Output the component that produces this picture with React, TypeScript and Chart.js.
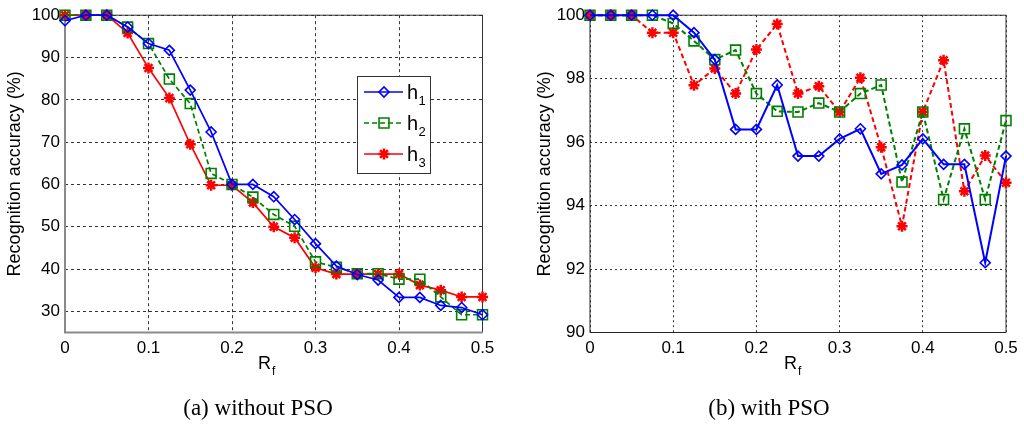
import React, { useEffect, useRef } from "react";
import { Chart, registerables } from "chart.js";
import { drawPoint } from "chart.js/helpers";

Chart.register(...registerables);

// ---------------- data ----------------
const xValues = [0, 0.025, 0.05, 0.075, 0.1, 0.125, 0.15, 0.175, 0.2, 0.225, 0.25, 0.275, 0.3, 0.325, 0.35, 0.375, 0.4, 0.425, 0.45, 0.475, 0.5];
const xTicks = [0, 0.1, 0.2, 0.3, 0.4, 0.5];
const yTicksA = [30, 40, 50, 60, 70, 80, 90, 100];
const yTicksB = [90, 92, 94, 96, 98, 100];
const seriesLabels = ["h₁", "h₂", "h₃"];
const yTitle = "Recognition accuracy (%)";
const xTitleBase = "R";
const xTitleSub = "f";
const captionA = "(a) without PSO";
const captionB = "(b) with PSO";

const h1WithoutPSO = [98.7, 100, 100, 97.2, 93.3, 91.7, 82.3, 72.4, 60.0, 60.0, 57.1, 51.7, 46.0, 40.7, 38.7, 37.4, 33.3, 33.3, 31.4, 30.9, 29.2];
const h2WithoutPSO = [100, 100, 100, 97.2, 93.3, 84.9, 79.1, 62.6, 60.0, 57.0, 52.9, 50.1, 41.7, 40.4, 38.9, 38.9, 37.6, 37.6, 33.4, 29.2, 29.2];
const h3WithoutPSO = [100, 100, 100, 95.8, 87.5, 80.4, 69.5, 59.8, 59.8, 55.7, 50.0, 47.4, 40.3, 38.8, 38.8, 38.8, 38.8, 36.2, 35.0, 33.4, 33.4];

const h1WithPSO = [100, 100, 100, 100, 100, 99.45, 98.6, 96.4, 96.4, 97.8, 95.56, 95.56, 96.1, 96.42, 95.0, 95.28, 96.1, 95.3, 95.3, 92.2, 95.56];
const h2WithPSO = [100, 100, 100, 100, 99.74, 99.19, 98.6, 98.9, 97.53, 96.97, 96.95, 97.23, 96.95, 97.53, 97.8, 94.74, 96.95, 94.19, 96.42, 94.19, 96.68];
const h3WithPSO = [100, 100, 100, 99.45, 99.45, 97.79, 98.32, 97.53, 98.92, 99.72, 97.53, 97.76, 96.95, 98.03, 95.84, 93.35, 96.95, 98.58, 94.45, 95.58, 94.72];

// ---------------- styling ----------------
const SANS = '"Liberation Sans", Arial, Helvetica, sans-serif';
const SERIF = '"Liberation Serif", "Times New Roman", serif';
const BLUE = "#0000ff";
const GREEN = "#008000";
const RED = "#ff0000";

const pts = (ys: number[]) => xValues.map((x, i) => ({ x, y: ys[i] }));

const subMap: Record<string, string> = { "₀": "0", "₁": "1", "₂": "2", "₃": "3", "₄": "4" };

const framePlugin = {
  id: "frame",
  beforeDatasetsDraw(chart: any, _args: any, opts: any) {
    const { left, right, top, bottom } = chart.chartArea;
    const ctx = chart.ctx;
    ctx.save();
    ctx.setLineDash([]);
    ctx.strokeStyle = opts.boxColor;
    ctx.lineWidth = opts.boxWidth;
    ctx.beginPath();
    ctx.moveTo(left, top);
    ctx.lineTo(right, top);
    ctx.lineTo(right, bottom);
    ctx.stroke();
    ctx.strokeStyle = opts.axisColor;
    ctx.lineWidth = opts.axisWidth;
    ctx.beginPath();
    ctx.moveTo(left, top);
    ctx.lineTo(left, bottom);
    ctx.lineTo(right, bottom);
    ctx.stroke();
    ctx.restore();
  },
};

const insetLegendPlugin = {
  id: "insetLegend",
  afterDatasetsDraw(chart: any, _args: any, opts: any) {
    if (!opts || !opts.show) return;
    const ctx = chart.ctx;
    const { x, y, w, h, rowH, firstRow } = opts;
    ctx.save();
    ctx.setLineDash([]);
    ctx.fillStyle = "#ffffff";
    ctx.fillRect(x, y, w, h);
    ctx.strokeStyle = "#333333";
    ctx.lineWidth = 1;
    ctx.strokeRect(x + 0.5, y + 0.5, w, h);
    chart.data.datasets.forEach((ds: any, i: number) => {
      const cy = y + firstRow + i * rowH;
      ctx.save();
      ctx.strokeStyle = ds.borderColor;
      ctx.lineWidth = ds.borderWidth;
      ctx.setLineDash(ds.borderDash || []);
      ctx.beginPath();
      ctx.moveTo(x + 7, cy);
      ctx.lineTo(x + 46, cy);
      ctx.stroke();
      ctx.setLineDash([]);
      ctx.fillStyle = ds.pointBackgroundColor;
      ctx.strokeStyle = ds.pointBorderColor;
      ctx.lineWidth = ds.pointBorderWidth;
      drawPoint(ctx, { pointStyle: ds.pointStyle, radius: ds.pointRadius, borderWidth: ds.pointBorderWidth, rotation: 0 } as any, x + 27, cy);
      ctx.restore();
      const label: string = ds.label;
      const base = label.slice(0, 1);
      const sub = label.slice(1).split("").map((c) => subMap[c] ?? c).join("");
      ctx.fillStyle = "#000";
      ctx.textBaseline = "alphabetic";
      ctx.textAlign = "left";
      ctx.font = `20px ${SANS}`;
      ctx.fillText(base, x + 50, cy + 7);
      const bw = ctx.measureText(base).width;
      ctx.font = `13px ${SANS}`;
      ctx.fillText(sub, x + 50 + bw + 0.5, cy + 13);
    });
    ctx.restore();
  },
};

type PanelProps = {
  series: number[][];
  dashes: number[][];
  yMin: number;
  yMax: number;
  yTicks: number[];
  padRight: number;
  yAxisWidth: number;
  titlePad: number;
  gridDash: number[];
  gridColor: string;
  axisColor: string;
  axisWidth: number;
  lineWidth: number;
  radii: number[];
  legend: any;
};

const W = 512;
const H = 424;
const PLOT_TOP = 15;
const PLOT_BOTTOM = 332.5;
const X_AXIS_H = 30;

function Panel(p: PanelProps) {
  const ref = useRef<HTMLCanvasElement | null>(null);
  useEffect(() => {
    if (!ref.current) return;
    const colors = [BLUE, GREEN, RED];
    const styles = ["rectRot", "rect", "star"];
    const chart = new Chart(ref.current, {
      type: "line",
      data: {
        datasets: p.series.map((s, i) => ({
          label: seriesLabels[i],
          data: pts(s),
          borderColor: colors[i],
          backgroundColor: colors[i],
          borderWidth: p.lineWidth,
          borderDash: p.dashes[i],
          pointStyle: styles[i],
          pointRadius: p.radii[i],
          pointBorderWidth: i === 2 ? 2.5 : 1.6,
          pointBorderColor: colors[i],
          pointBackgroundColor: i === 2 ? colors[i] : "rgba(255,255,255,0)",
          tension: 0,
          fill: false,
          clip: false as any,
        })),
      },
      options: {
        animation: false,
        responsive: false,
        maintainAspectRatio: false,
        events: [],
        layout: {
          padding: { top: PLOT_TOP, right: p.padRight, bottom: H - PLOT_BOTTOM - X_AXIS_H, left: 0 },
        },
        plugins: {
          legend: { display: false },
          tooltip: { enabled: false },
          frame: { boxColor: "#333333", boxWidth: 1, axisColor: p.axisColor, axisWidth: p.axisWidth },
          insetLegend: p.legend,
        } as any,
        scales: {
          x: {
            type: "linear",
            min: 0,
            max: 0.5,
            afterBuildTicks: (axis: any) => {
              axis.ticks = xTicks.map((v) => ({ value: v }));
            },
            afterFit: (axis: any) => {
              axis.height = X_AXIS_H;
            },
            grid: { color: p.gridColor, lineWidth: 1, drawTicks: false },
            border: { display: false, dash: p.gridDash },
            ticks: {
              padding: 6,
              autoSkip: false,
              maxRotation: 0,
              color: "#000",
              font: { family: SANS, size: 17 },
              callback: (v: any) => String(+Number(v).toFixed(2)),
            },
          },
          y: {
            type: "linear",
            min: p.yMin,
            max: p.yMax,
            afterBuildTicks: (axis: any) => {
              axis.ticks = p.yTicks.map((v) => ({ value: v }));
            },
            afterFit: (axis: any) => {
              axis.width = p.yAxisWidth;
            },
            grid: { color: p.gridColor, lineWidth: 1, drawTicks: false },
            border: { display: false, dash: p.gridDash },
            ticks: {
              padding: 5,
              color: "#000",
              font: { family: SANS, size: 17 },
              callback: (v: any) => String(v),
            },
            title: {
              display: true,
              text: yTitle,
              color: "#000",
              font: { family: SANS, size: 18 },
              padding: { top: p.titlePad, bottom: 0 },
            },
          },
        },
      } as any,
      plugins: [framePlugin as any, insetLegendPlugin as any],
    });
    return () => chart.destroy();
  }, []);
  return <canvas ref={ref} width={W} height={H} style={{ width: W, height: H, display: "block" }} />;
}

const textStyle: React.CSSProperties = {
  position: "absolute",
  fontFamily: SANS,
  fontSize: 18,
  color: "#000",
  whiteSpace: "nowrap",
  lineHeight: "18px",
};

function XTitle({ left }: { left: number }) {
  return (
    <div style={{ ...textStyle, left, top: 354 }}>
      {xTitleBase}
      <span style={{ fontSize: 12, position: "relative", top: 6, marginLeft: 1 }}>{xTitleSub}</span>
    </div>
  );
}

function Caption({ center, text }: { center: number; text: string }) {
  return (
    <div
      style={{
        position: "absolute",
        left: center - 150,
        width: 300,
        top: 395,
        textAlign: "center",
        fontFamily: SERIF,
        fontSize: 23,
        lineHeight: "25px",
        color: "#000",
        whiteSpace: "nowrap",
      }}
    >
      {text}
    </div>
  );
}

export default function App() {
  return (
    <div style={{ position: "absolute", left: 0, top: 0, width: 1024, height: 424, background: "#fff", overflow: "hidden" }}>
      <div style={{ position: "absolute", left: 0, top: 0 }}>
        <Panel
          series={[h1WithoutPSO, h2WithoutPSO, h3WithoutPSO]}
          dashes={[[], [5, 3], []]}
          yMin={25}
          yMax={100}
          yTicks={yTicksA}
          padRight={W - 482.5}
          yAxisWidth={65}
          titlePad={4}
          gridDash={[3, 3]}
          gridColor="#333333"
          axisColor="#8a8a8a"
          axisWidth={2}
          lineWidth={1.7}
          radii={[5, 7, 5.5]}
          legend={{ show: true, x: 357, y: 76, w: 73, h: 97, rowH: 31, firstRow: 16 }}
        />
      </div>
      <div style={{ position: "absolute", left: 512, top: 0 }}>
        <Panel
          series={[h1WithPSO, h2WithPSO, h3WithPSO]}
          dashes={[[], [5, 3], [5, 3]]}
          yMin={90}
          yMax={100}
          yTicks={yTicksB}
          padRight={W - (1006 - 512)}
          yAxisWidth={78}
          titlePad={22}
          gridDash={[2, 3]}
          gridColor="#333333"
          axisColor="#222222"
          axisWidth={1}
          lineWidth={2}
          radii={[5, 7, 5.5]}
          legend={{ show: false }}
        />
      </div>
      <XTitle left={258} />
      <XTitle left={784} />
      <Caption center={258} text={captionA} />
      <Caption center={769} text={captionB} />
    </div>
  );
}
